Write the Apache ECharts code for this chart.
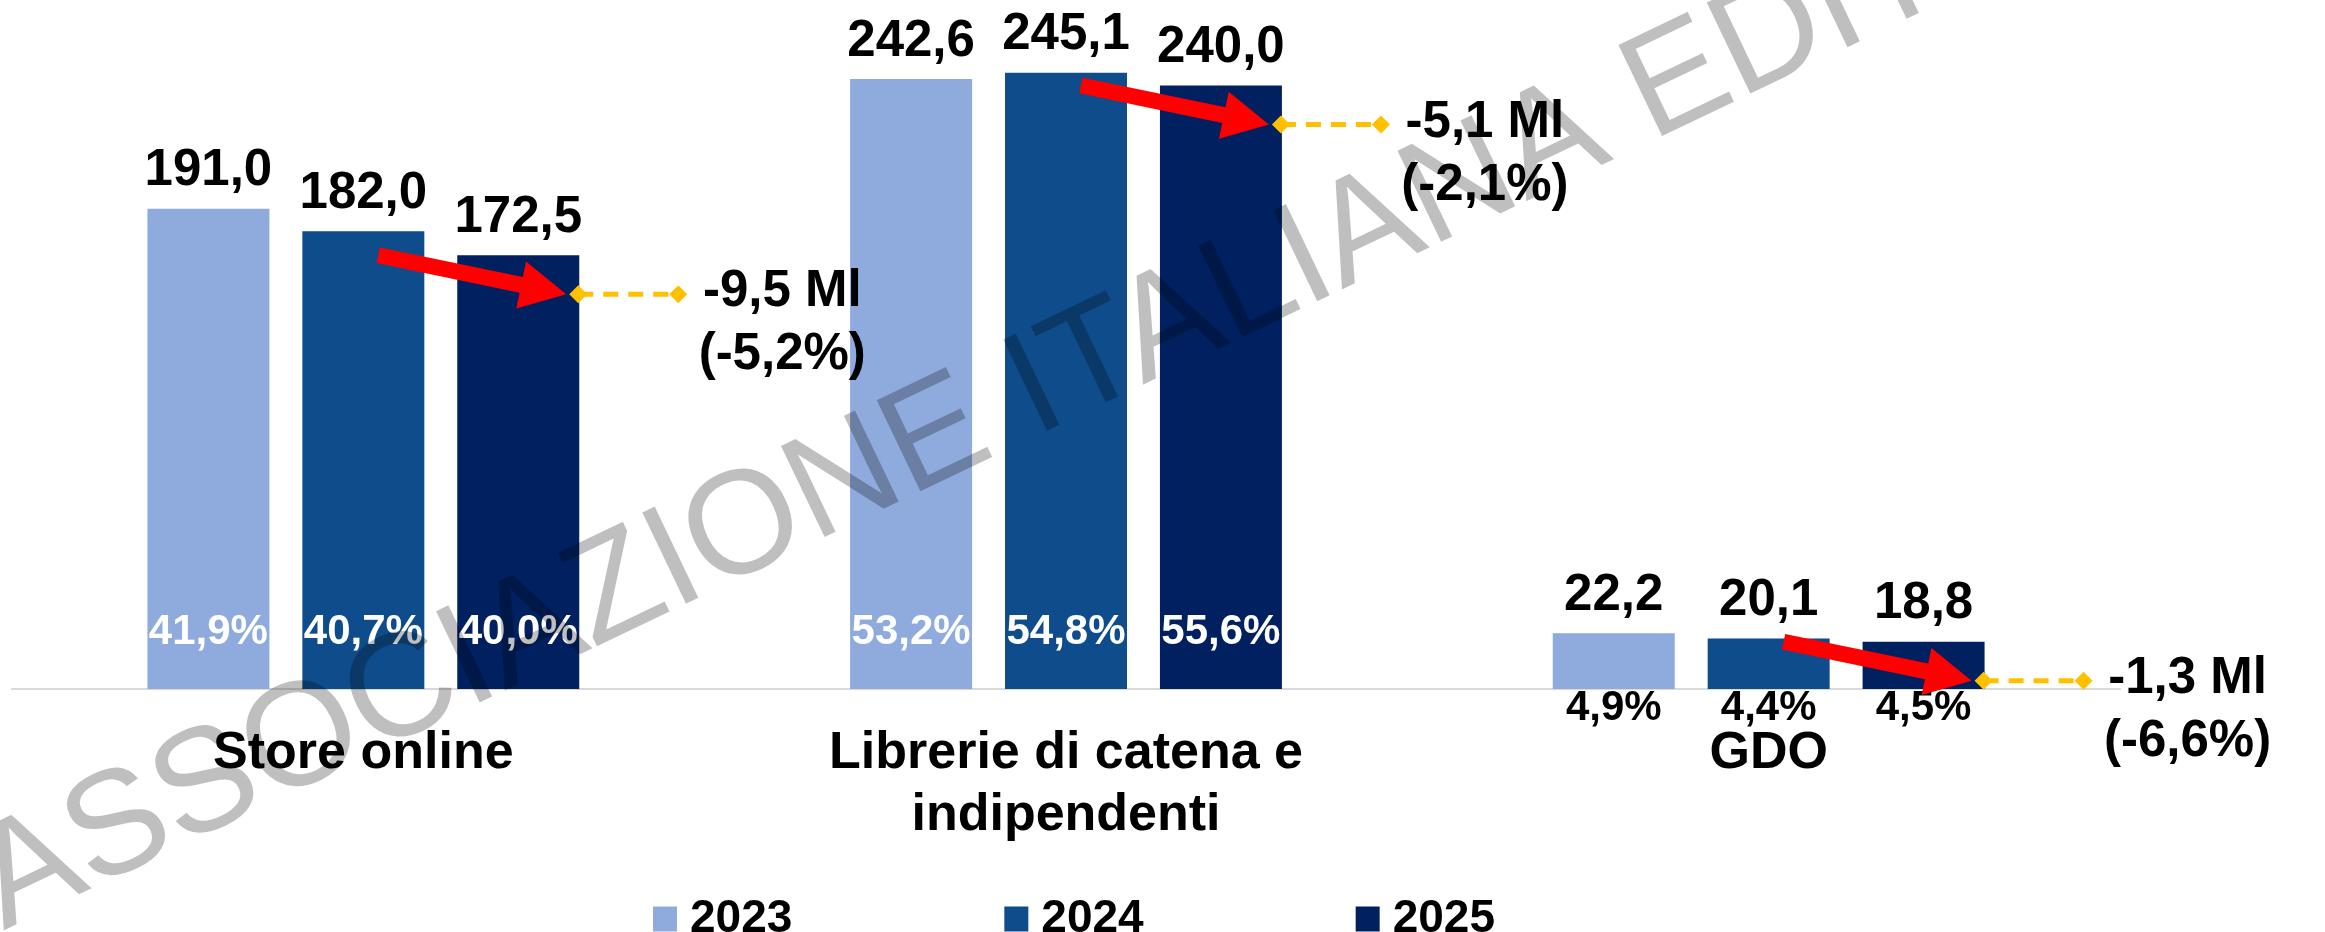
<!DOCTYPE html>
<html>
<head>
<meta charset="utf-8">
<title>Canali di vendita</title>
<script src="https://cdn.jsdelivr.net/npm/echarts@6/dist/echarts.min.js"></script>
<style>
  html, body { margin: 0; padding: 0; background: #fff; }
  #salesChart { width: 2325px; height: 932px; }
</style>
</head>
<body>
<div id="salesChart"></div>
<script>
// dati
const categories = ['Store online', 'Librerie di catena e\nindipendenti', 'GDO'];
const years = ['2023', '2024', '2025'];
const values2023 = [191.0, 242.6, 22.2];
const values2024 = [182.0, 245.1, 20.1];
const values2025 = [172.5, 240.0, 18.8];
const share2023 = ['41,9%', '53,2%', '4,9%'];
const share2024 = ['40,7%', '54,8%', '4,4%'];
const share2025 = ['40,0%', '55,6%', '4,5%'];
const deltaMl = ['-9,5 Ml', '-5,1 Ml', '-1,3 Ml'];
const deltaPct = ['(-5,2%)', '(-2,1%)', '(-6,6%)'];

const FONT = '"Liberation Sans", Arial, Helvetica, sans-serif';
const colors = ['#8FAADC', '#0E4C8B', '#002060'];
const barWidthRatio = 0.1736;
const barGapRatio = 0.27;

const yearValues = [values2023, values2024, values2025];
const yearShares = [share2023, share2024, share2025];

function fmt(v) {
  return v.toFixed(1).replace('.', ',');
}

// centro della barra dell'anno j nella categoria i
function barCenter(api, i, j) {
  const band = api.size([1, 0])[0];
  const bw = band * barWidthRatio;
  return api.coord([i, 0])[0] + (j - 1) * bw * (1 + barGapRatio);
}

const chart = echarts.init(document.getElementById('salesChart'));

const barSeries = years.map(function(y, j) {
  return {
    name: y,
    type: 'bar',
    data: yearValues[j],
    barWidth: (barWidthRatio * 100) + '%',
    barGap: (barGapRatio * 100) + '%',
    itemStyle: { color: colors[j] },
    label: {
      show: true,
      position: 'top',
      distance: 12,
      formatter: function(p) { return fmt(p.value); },
      fontFamily: FONT,
      fontSize: 51,
      fontWeight: 'bold',
      color: '#000'
    },
    z: 2
  };
});

const shareData = [];
years.forEach(function(y, j) {
  categories.forEach(function(c, i) {
    shareData.push([i, yearValues[j][i], j]);
  });
});

const shareSeries = {
  type: 'custom',
  name: 'quote',
  data: shareData,
  encode: { x: 0, y: 1 },
  silent: true,
  z: 5,
  renderItem: function(params, api) {
    const i = api.value(0);
    const j = api.value(2);
    const x = barCenter(api, i, j);
    const base = api.coord([i, 0])[1];
    const top = api.coord([i, api.value(1)])[1];
    const inside = base - top > 100;
    return {
      type: 'text',
      style: {
        text: yearShares[j][i],
        x: x,
        y: inside ? base - 57 : base + 19,
        fill: inside ? '#fff' : '#000',
        font: 'bold 42px ' + FONT,
        align: 'center',
        verticalAlign: 'middle'
      }
    };
  }
};

function diamond(cx, cy, r) {
  return {
    type: 'polygon',
    shape: { points: [[cx - r, cy], [cx, cy - r], [cx + r, cy], [cx, cy + r]] },
    style: { fill: '#FFC000' }
  };
}

function arrow(tail, tip) {
  const dx = tip[0] - tail[0];
  const dy = tip[1] - tail[1];
  const len = Math.sqrt(dx * dx + dy * dy);
  const ux = dx / len, uy = dy / len;
  const nx = -uy, ny = ux;
  const w = 8, hw = 24, hl = 46;
  const bx = tip[0] - ux * hl, by = tip[1] - uy * hl;
  return {
    type: 'polygon',
    shape: {
      points: [
        [tail[0] + nx * w, tail[1] + ny * w],
        [bx + nx * w, by + ny * w],
        [bx + nx * hw, by + ny * hw],
        tip,
        [bx - nx * hw, by - ny * hw],
        [bx - nx * w, by - ny * w],
        [tail[0] - nx * w, tail[1] - ny * w]
      ]
    },
    style: { fill: '#FF0000' }
  };
}

const annotSeries = {
  type: 'custom',
  name: 'variazione',
  data: categories.map(function(c, i) { return [i, values2025[i]]; }),
  encode: { x: 0, y: 1 },
  silent: true,
  z: 6,
  renderItem: function(params, api) {
    const i = api.value(0);
    const cx = barCenter(api, i, 2);
    const top = api.coord([i, api.value(1)])[1];
    const tip = [cx + 48, top + 39];
    const tail = [tip[0] - 188, tip[1] - 39];
    const x1 = tip[0] + 12, x2 = tip[0] + 112;
    const tx = tip[0] + 216;
    return {
      type: 'group',
      children: [
        arrow(tail, tip),
        {
          type: 'line',
          shape: { x1: x1, y1: tip[1], x2: x2, y2: tip[1] },
          style: { stroke: '#FFC000', lineWidth: 5, lineDash: [15, 10] }
        },
        diamond(x1, tip[1], 9),
        diamond(x2, tip[1], 9),
        {
          type: 'text',
          style: {
            text: deltaMl[i], x: tx, y: tip[1] - 2,
            font: 'bold 51px ' + FONT, fill: '#000',
            align: 'center', verticalAlign: 'middle'
          }
        },
        {
          type: 'text',
          style: {
            text: deltaPct[i], x: tx, y: tip[1] + 61,
            font: 'bold 51px ' + FONT, fill: '#000',
            align: 'center', verticalAlign: 'middle'
          }
        }
      ]
    };
  }
};

chart.setOption({
  animation: false,
  backgroundColor: '#fff',
  grid: {
    left: 12,
    right: 205,
    top: 0,
    bottom: 243,
    containLabel: false,
    outerBoundsMode: 'none'
  },
  legend: {
    data: years,
    left: 648,
    top: 891,
    icon: 'rect',
    itemWidth: 24,
    itemHeight: 25,
    itemGap: 212,
    textStyle: {
      fontFamily: FONT,
      fontSize: 46,
      fontWeight: 'bold',
      color: '#000',
      padding: [0, 0, 0, 8]
    }
  },
  xAxis: {
    type: 'category',
    data: categories,
    axisLine: { lineStyle: { color: '#D9D9D9', width: 2 } },
    axisTick: { show: false },
    axisLabel: {
      interval: 0,
      margin: 34,
      fontFamily: FONT,
      fontSize: 52,
      fontWeight: 'bold',
      color: '#000',
      lineHeight: 62
    }
  },
  yAxis: {
    type: 'value',
    min: 0,
    max: 274,
    show: false,
    splitLine: { show: false }
  },
  graphic: [
    {
      type: 'text',
      x: 8,
      y: 940,
      rotation: 25.6 * Math.PI / 180,
      z: 100,
      silent: true,
      style: {
        text: 'ASSOCIAZIONE ITALIANA EDITORI',
        x: 0,
        y: -51,
        font: '147px ' + FONT,
        fill: 'rgba(0,0,0,0.25)',
        align: 'left',
        verticalAlign: 'middle'
      }
    }
  ],
  series: barSeries.concat([shareSeries, annotSeries])
});

window.addEventListener('resize', function() {
  chart.resize();
});
</script>
</body>
</html>
